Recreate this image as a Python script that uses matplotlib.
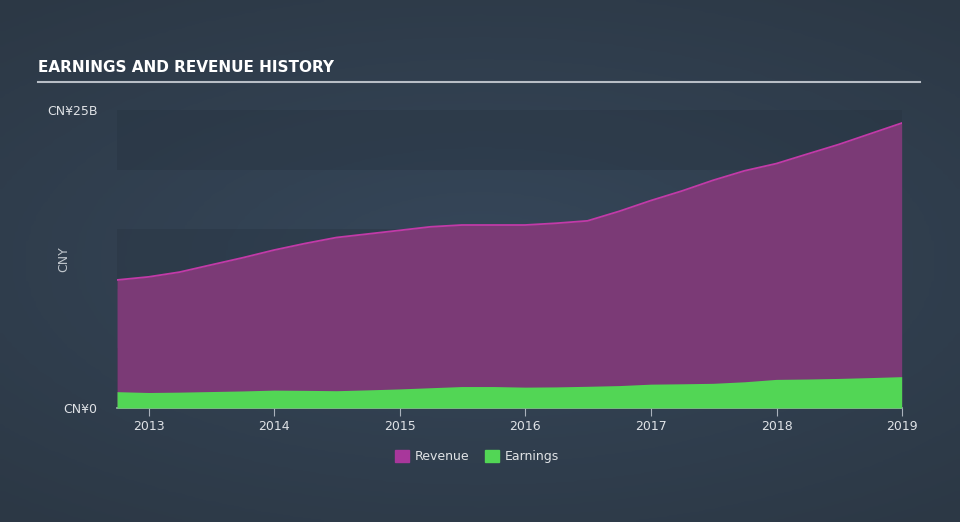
import numpy as np
import pandas as pd
import matplotlib
matplotlib.use('Agg')
import matplotlib.pyplot as plt
from matplotlib.patches import Patch

# quarterly data (CNY billions)
dates = ['2012-09-30', '2012-12-31', '2013-03-31', '2013-06-30', '2013-09-30', '2013-12-31',
         '2014-03-31', '2014-06-30', '2014-09-30', '2014-12-31', '2015-03-31', '2015-06-30',
         '2015-09-30', '2015-12-31', '2016-03-31', '2016-06-30', '2016-09-30', '2016-12-31',
         '2017-03-31', '2017-06-30', '2017-09-30', '2017-12-31', '2018-03-31', '2018-06-30',
         '2018-09-30', '2018-12-31']
revenue = [10.74, 11.0, 11.4, 12.0, 12.6, 13.25, 13.8, 14.3, 14.6, 14.9, 15.2, 15.35,
           15.35, 15.35, 15.5, 15.7, 16.5, 17.4, 18.2, 19.1, 19.9, 20.5, 21.3, 22.1,
           23.0, 23.9]
earnings = [1.37, 1.3, 1.33, 1.38, 1.43, 1.5, 1.48, 1.45, 1.52, 1.6, 1.7, 1.8,
            1.8, 1.75, 1.77, 1.82, 1.88, 2.0, 2.03, 2.07, 2.2, 2.4, 2.43, 2.48,
            2.55, 2.63]
years = ['2013', '2014', '2015', '2016', '2017', '2018', '2019']

df = pd.DataFrame({'date': pd.to_datetime(dates), 'revenue': revenue, 'earnings': earnings})

fig = plt.figure(figsize=(9.6, 5.22), dpi=100)
fig.patch.set_facecolor('#323f4e')

# soft radial background
bg = fig.add_axes([0, 0, 1, 1], zorder=-10)
yy, xx = np.mgrid[-1:1:200j, -1:1:200j]
r = np.sqrt(xx**2 * 0.8 + yy**2 * 1.2)
bg.imshow(-r, cmap=matplotlib.colors.LinearSegmentedColormap.from_list('b', ['#2c3845', '#36475a']),
          aspect='auto', extent=[0, 1, 0, 1])
bg.axis('off')

ax = fig.add_axes([0.1219, 0.2184, 0.8177, 0.5709])
ax.set_facecolor('none')

# horizontal bands
for lo, hi in [(20, 25), (10, 15), (0, 5)]:
    ax.axhspan(lo, hi, color='#26323f', alpha=0.35, lw=0, zorder=0)

ax.fill_between(df['date'], revenue, color='#7b3a76', lw=0, zorder=1)
ax.plot(df['date'], revenue, color='#c23aa8', lw=1.3, zorder=2)
ax.fill_between(df['date'], earnings, color='#52d655', lw=0, zorder=3)

ax.set_xlim(df['date'].iloc[0], df['date'].iloc[-1])
ax.set_ylim(0, 25)
ax.set_yticks([0, 25])
ax.set_yticklabels(['CN¥0', 'CN¥25B'])
ax.set_xticks(pd.to_datetime([y + '-01-01' for y in years]))
ax.set_xticklabels(years)
ax.tick_params(axis='x', colors='#d5d9de', labelsize=9, length=6, width=0.8, color='#aab2bc', pad=3)
ax.tick_params(axis='y', colors='#d5d9de', labelsize=9, length=0, pad=14)
for lab in ax.get_xticklabels() + ax.get_yticklabels():
    lab.set_color('#dfe2e6')
for s in ['top', 'right', 'left']:
    ax.spines[s].set_visible(False)
ax.spines['bottom'].set_color('#aab2bc')
ax.spines['bottom'].set_linewidth(1.2)
ax.set_ylabel('CNY', color='#c0c6cc', fontsize=9, labelpad=2)
ax.yaxis.set_label_coords(-0.06, 0.5)

fig.text(0.04, 0.87, 'EARNINGS AND REVENUE HISTORY', color='white', fontsize=11,
         fontweight='bold', va='center')
fig.add_artist(plt.Line2D([0.04, 0.958], [0.843, 0.843], color='#b8bec6', lw=1.5))

handles = [Patch(color='#a8379b', label='Revenue'), Patch(color='#52d655', label='Earnings')]
leg = fig.legend(handles=handles, loc='center', bbox_to_anchor=(0.497, 0.126), ncol=2,
                 frameon=False, fontsize=9, handlelength=1.1, handleheight=1.1,
                 columnspacing=1.2, handletextpad=0.5)
for t in leg.get_texts():
    t.set_color('#e0e3e6')

fig.savefig('out.png', dpi=100, facecolor=fig.get_facecolor())
